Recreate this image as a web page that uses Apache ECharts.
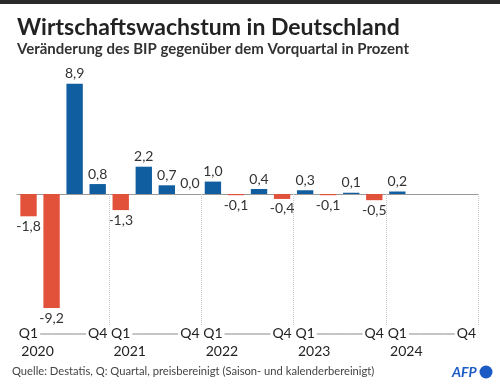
<!DOCTYPE html>
<html><head><meta charset="utf-8">
<script src="https://cdn.jsdelivr.net/npm/echarts@6/dist/echarts.min.js"></script>
<style>html,body{margin:0;padding:0;background:#fff}#c{width:500px;height:389px}</style>
</head><body><div id="c"></div>
<script>
const categories = ['Q1 2020','Q2 2020','Q3 2020','Q4 2020','Q1 2021','Q2 2021','Q3 2021','Q4 2021','Q1 2022','Q2 2022','Q3 2022','Q4 2022','Q1 2023','Q2 2023','Q3 2023','Q4 2023','Q1 2024','Q2 2024','Q3 2024','Q4 2024'];
const values = [-1.8,-9.2,8.9,0.8,-1.3,2.2,0.7,0.0,1.0,-0.1,0.4,-0.4,0.3,-0.1,0.1,-0.5,0.2,null,null,null];
const quarterLabels = ['Q1','Q2','Q3','Q4'];
const years = ['2020','2021','2022','2023','2024'];

const FONT = 'Lato';
const BLUE = '#105ea0', RED = '#e2513a';

const barData = values.map(v => v === null ? '-' : {
  value: v,
  itemStyle: { color: v < 0 ? RED : BLUE },
  label: { position: v < 0 ? 'bottom' : 'top' }
});

const connectorSeries = years.map((y, i) => {
  const d = categories.map(() => '-');
  for (let k = 0; k < 4; k++) d[i * 4 + k] = 0;
  return {
    type: 'line', xAxisIndex: 2, yAxisIndex: 2, symbol: 'none', silent: true, z: 1,
    lineStyle: { color: '#8a8a8a', width: 1 },
    data: d
  };
});

const chart = echarts.init(document.getElementById('c'), null, {renderer: 'canvas'});
chart.setOption({
  animation: false,
  textStyle: { fontFamily: FONT },
  title: [
    { text: 'Wirtschaftswachstum in Deutschland', left: 12, top: 11,
      textStyle: { fontFamily: FONT, fontWeight: 'bold', fontSize: 23, color: '#222' } },
    { text: 'Veränderung des BIP gegenüber dem Vorquartal in Prozent', left: 12, top: 37,
      textStyle: { fontFamily: FONT, fontWeight: 'bold', fontSize: 15, color: '#333' } }
  ],
  grid: [
    { left: 17, right: 22, top: 70, bottom: 63.6 },
    { left: 17, right: 22, top: 194, bottom: 64 },
    { left: 17, right: 22, top: 324, height: 20 }
  ],
  xAxis: [
    { gridIndex: 0, type: 'category', data: categories,
      axisLine: { onZero: true, lineStyle: { color: '#999', width: 1 } },
      axisTick: { show: false }, axisLabel: { show: false }, splitLine: { show: false } },
    { gridIndex: 1, type: 'category', data: categories, position: 'bottom', z: 10,
      axisLine: { show: false }, axisTick: { show: false },
      splitLine: { show: true, interval: (i) => i % 4 === 0 && i > 0 && i < categories.length,
        lineStyle: { color: '#c8c8c8', type: 'dotted', width: 1 } },
      axisLabel: { interval: (i) => i % 4 === 0 || i % 4 === 3, margin: 0,
        formatter: (v, i) => quarterLabels[i % 4],
        fontFamily: FONT, fontSize: 14, lineHeight: 16, color: '#222',
        backgroundColor: '#fff', padding: [0, 2] } },
    { gridIndex: 2, type: 'category', data: categories, position: 'bottom',
      axisLine: { show: false }, axisTick: { show: false }, splitLine: { show: false },
      axisLabel: { interval: (i) => i % 4 === 0, margin: -1,
        formatter: (v, i) => '{y|' + years[Math.floor(i / 4)] + '}',
        rich: { y: { fontFamily: FONT, fontSize: 14, lineHeight: 16, color: '#222', padding: [0, 0, 0, 18] } } } }
  ],
  yAxis: [
    { gridIndex: 0, type: 'value', min: -10.6, max: 10, show: false },
    { gridIndex: 1, type: 'value', min: 0, max: 1, show: false },
    { gridIndex: 2, type: 'value', min: -1, max: 1, show: false }
  ],
  series: [
    { type: 'bar', xAxisIndex: 0, yAxisIndex: 0, data: barData, barWidth: '71%',
      label: { show: true, distance: 3, fontFamily: FONT, fontSize: 14, color: '#333',
        formatter: p => p.value.toFixed(1).replace('.', ',') } }
  ].concat(connectorSeries),
  graphic: [
    { type: 'rect', left: 0, top: 0, shape: { width: 500, height: 4 }, style: { fill: '#2a2a2a' } },
    { type: 'text', left: 12, top: 366, style: { text: 'Quelle: Destatis, Q: Quartal, preisbereinigt (Saison- und kalenderbereinigt)',
      font: '11.2px ' + FONT, fill: '#444' } },
    { type: 'text', left: 452, top: 365, style: { text: 'AFP', font: 'italic bold 14px ' + FONT, fill: '#1d5bc4' } },
    { type: 'circle', shape: { cx: 486, cy: 372, r: 6.5 }, style: { fill: '#1d5bc4' } }
  ]
});
</script></body></html>
